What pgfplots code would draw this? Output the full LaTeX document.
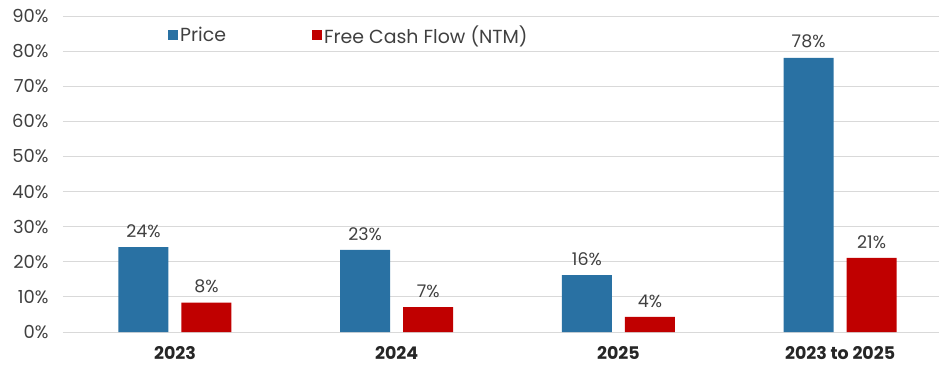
\documentclass[border=0pt]{standalone}
\usepackage{pgfplots}
\pgfplotsset{compat=1.18}
\usepackage{fontspec}
\setmainfont{Poppins}
\definecolor{pblue}{RGB}{41,113,163}
\definecolor{pred}{RGB}{192,0,0}
\definecolor{gridc}{RGB}{217,217,217}
\definecolor{txt}{RGB}{64,64,64}
\begin{document}
\begin{tikzpicture}
\useasboundingbox (-63bp,-33bp) rectangle (876bp,332bp);
\begin{axis}[
  scale only axis,
  width=876bp, height=316bp,
  xmin=-0.505, xmax=3.446,
  ymin=0, ymax=90,
  ybar=13bp, bar width=50bp,
  axis line style={draw=none},
  major tick length=0pt,
  ytick={0,10,...,90},
  yticklabel={\pgfmathprintnumber{\tick}\%},
  yticklabel style={font=\fontsize{18}{20}\selectfont, text=txt, xshift=-11bp},
  ymajorgrids, xmajorgrids=false, grid style={draw=gridc, line width=0.8bp},
  xtick={0,1,2,3},
  xticklabels={2023,2024,2025,2023 to 2025},
  xticklabel style={font=\bfseries\fontsize{17.5}{19}\selectfont, text=black!85, yshift=-11bp},
  /pgf/number format/assume math mode=true,
  nodes near coords={\pgfmathprintnumber[fixed,precision=0]{\pgfplotspointmeta}\%},
  nodes near coords style={font=\fontsize{17.5}{19}\selectfont, text=txt, yshift=6bp},
  legend style={draw=none, fill=none, at={(0.1164,0.94)}, anchor=west,
    legend columns=2, font=\fontsize{19}{21}\selectfont, text=txt,
    /tikz/every even column/.style={column sep=84bp}},
  legend cell align=left,
  legend image code/.code={\fill[#1] (0bp,-5bp) rectangle (10bp,5bp);},
]
\addplot[fill=pblue, draw=none] coordinates {(0,24.2) (1,23.4) (2,16.2) (3,78.1)};
\addplot[fill=pred, draw=none] coordinates {(0,8.4) (1,7.1) (2,4.3) (3,21.1)};
\legend{Price, Free Cash Flow (NTM)}
\end{axis}
\end{tikzpicture}
\end{document}
